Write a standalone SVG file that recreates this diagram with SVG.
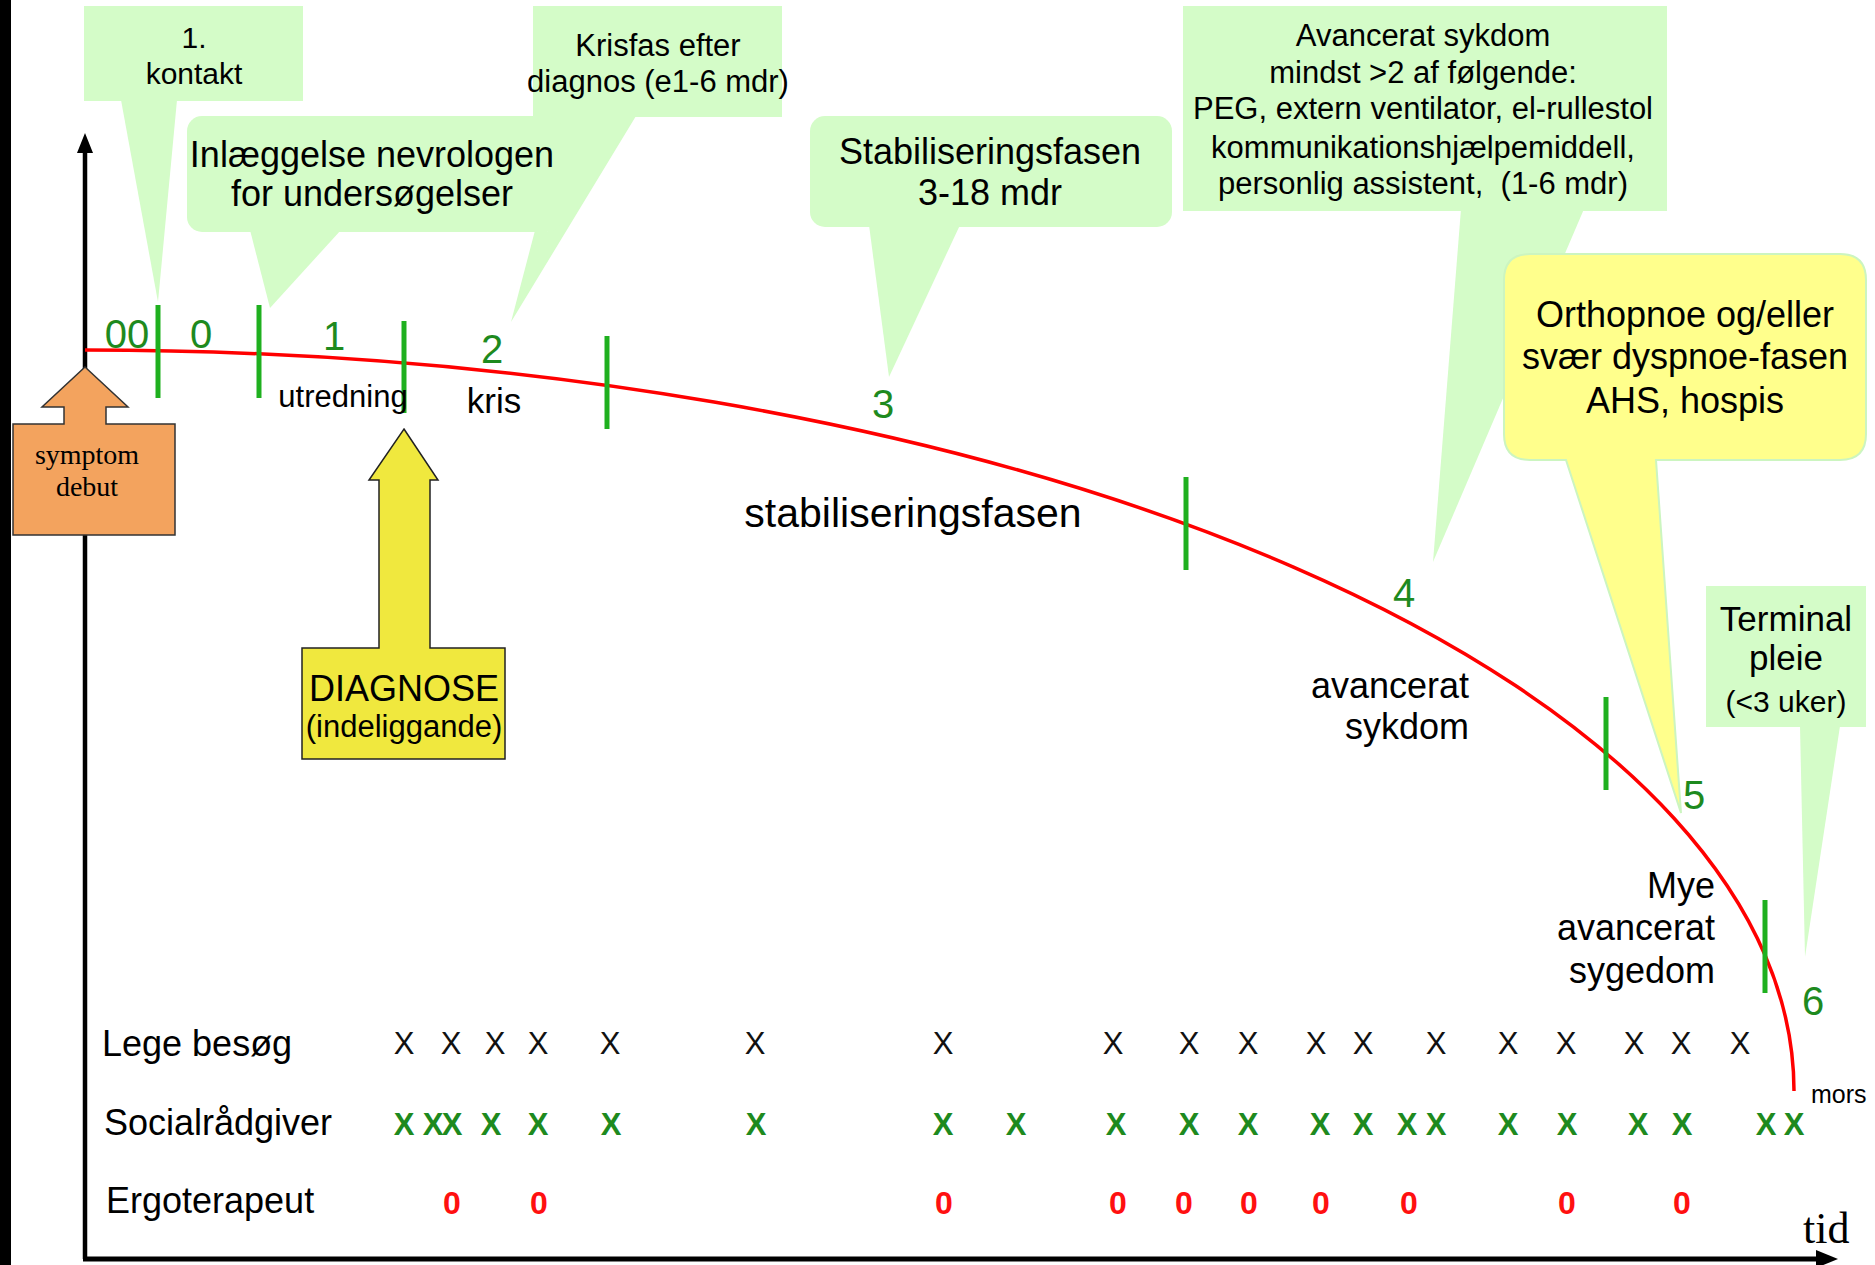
<svg xmlns="http://www.w3.org/2000/svg" width="1875" height="1265" viewBox="0 0 1875 1265">
<style>
text{font-family:"Liberation Sans",Arial,sans-serif;fill:#000}
.c{text-anchor:middle}
.e{text-anchor:end}
.f30{font-size:30px}
.f31{font-size:31px}
.f35{font-size:35px}
.f36{font-size:36px}
.f41{font-size:41px}
.num{font-size:40px;fill:#1e8a1e;text-anchor:middle}
.serif{font-family:"Liberation Serif","Times New Roman",serif}
.bx{font-size:31px;text-anchor:middle;fill:#111}
.gx{font-size:31px;font-weight:bold;text-anchor:middle;fill:#1e8a1e}
.r0{font-size:32px;font-weight:bold;text-anchor:middle;fill:#ff1010}
.call{fill:#d4fcc8}
.yell{fill:#ffff8c;stroke:#ccf5c0;stroke-width:2}
.tick{stroke:#1fb01f;stroke-width:5}
</style>
<rect width="1875" height="1265" fill="#fff"/>
<rect x="0" y="0" width="11" height="1265" fill="#000"/>

<g id="callout-kontakt">
<rect class="call" x="84" y="6" width="219" height="95"/>
<polygon class="call" points="121,100 177,100 158,302"/>
<text class="f30 c" x="194" y="48">1.</text>
<text class="f30 c" x="194" y="84">kontakt</text>
</g>
<g id="callout-krisfas">
<rect class="call" x="533" y="6" width="249" height="111"/>
<polygon class="call" points="548,116 636,116 511,322 534.6,232 548,232"/>
<text class="f31 c" x="658" y="56">Krisfas efter</text>
<text class="f31 c" x="658" y="92">diagnos (e1-6 mdr)</text>
</g>
<g id="callout-inlaeggelse">
<rect class="call" x="187" y="116" width="375" height="116" rx="15"/>
<polygon class="call" points="250,230 341,230 270,308"/>
<text class="f36 c" x="372" y="167">Inlæggelse nevrologen</text>
<text class="f36 c" x="372" y="206">for undersøgelser</text>
</g>
<g id="callout-stabilisering">
<rect class="call" x="810" y="116" width="362" height="111" rx="15"/>
<polygon class="call" points="869,225 960,225 889,377"/>
<text class="f36 c" x="990" y="164">Stabiliseringsfasen</text>
<text class="f36 c" x="990" y="205">3-18 mdr</text>
</g>
<g id="callout-avancerat">
<rect class="call" x="1183" y="6" width="484" height="205"/>
<polygon class="call" points="1461,209 1584,209 1433,562"/>
<text class="f31 c" x="1423" y="46">Avancerat sykdom</text>
<text class="f31 c" x="1423" y="83">mindst &gt;2 af følgende:</text>
<text class="f31 c" x="1423" y="119">PEG, extern ventilator, el-rullestol</text>
<text class="f31 c" x="1423" y="158">kommunikationshjælpemiddell,</text>
<text class="f31 c" x="1423" y="194" xml:space="preserve">personlig assistent,  (1-6 mdr)</text>
</g>
<g id="callout-orthopnoe">
<path class="yell" d="M1530,254 H1840 Q1866,254 1866,280 V434 Q1866,460 1840,460 H1656 L1681,813 L1566,460 H1530 Q1504,460 1504,434 V280 Q1504,254 1530,254 Z"/>
<text class="f36 c" x="1685" y="327">Orthopnoe og/eller</text>
<text class="f36 c" x="1685" y="369">svær dyspnoe-fasen</text>
<text class="f36 c" x="1685" y="413">AHS, hospis</text>
</g>
<g id="callout-terminal">
<rect class="call" x="1706" y="586" width="160" height="141"/>
<polygon class="call" points="1800,726 1840,726 1805,957"/>
<text class="f35 c" x="1786" y="631">Terminal</text>
<text class="f35 c" x="1786" y="670">pleie</text>
<text class="f30 c" x="1786" y="712">(&lt;3 uker)</text>
</g>

<g id="connectors">
<line x1="85" y1="1259" x2="85" y2="150" stroke="#000" stroke-width="4.5"/>
<polygon points="85,133 77,153 93,153" fill="#000"/>
<line x1="83" y1="1259" x2="1820" y2="1259" stroke="#000" stroke-width="5"/>
<polygon points="1838,1259 1816,1250 1816,1268" fill="#000"/>
<path id="curve" d="M85,350 A1709,741 0 0 1 1794,1091" fill="none" stroke="#ff0000" stroke-width="3.5"/>
<g id="ticks">
<line class="tick" x1="158" y1="305" x2="158" y2="398"/>
<line class="tick" x1="259" y1="305" x2="259" y2="398"/>
<line class="tick" x1="404" y1="321" x2="404" y2="413"/>
<line class="tick" x1="607" y1="336" x2="607" y2="429"/>
<line class="tick" x1="1186" y1="477" x2="1186" y2="570"/>
<line class="tick" x1="1606" y1="697" x2="1606" y2="790"/>
<line class="tick" x1="1765" y1="900" x2="1765" y2="993"/>
</g>
</g>

<g id="symptom-debut">
<path d="M85,367 L128,407 L106,407 L106,424 L175,424 L175,535 L13,535 L13,424 L64,424 L64,407 L42,407 Z" fill="#f3a35e" stroke="#333" stroke-width="1.5"/>
<text class="serif c" x="87" y="464" style="font-size:28px">symptom</text>
<text class="serif c" x="87" y="496" style="font-size:28px">debut</text>
</g>
<g id="diagnose">
<path d="M404,429 L438,480 L430,480 L430,648 L505,648 L505,759 L302,759 L302,648 L379,648 L379,480 L369,480 Z" fill="#f0e83e" stroke="#222" stroke-width="1.5"/>
<text class="f36 c" x="404" y="701">DIAGNOSE</text>
<text class="f31 c" x="404" y="737">(indeliggande)</text>
</g>

<g id="phase-numbers">
<text class="num" x="127" y="348">00</text>
<text class="num" x="201" y="348">0</text>
<text class="num" x="334" y="350">1</text>
<text class="num" x="492" y="363">2</text>
<text class="num" x="883" y="418">3</text>
<text class="num" x="1404" y="607">4</text>
<text class="num" x="1694" y="809">5</text>
<text class="num" x="1813" y="1015">6</text>
</g>

<g id="phase-labels">
<text class="f31 c" x="343" y="407">utredning</text>
<text class="f35 c" x="494" y="413">kris</text>
<text class="f41 c" x="913" y="527">stabiliseringsfasen</text>
<text class="f36 e" x="1469" y="698">avancerat</text>
<text class="f36 e" x="1469" y="739">sykdom</text>
<text class="f36 e" x="1715" y="898">Mye</text>
<text class="f36 e" x="1715" y="940">avancerat</text>
<text class="f36 e" x="1715" y="983">sygedom</text>
<text x="1811" y="1103" style="font-size:25px">mors</text>
<text class="serif" x="1803" y="1243" style="font-size:44px">tid</text>
</g>

<g id="row-lege">
<text class="f36" x="102" y="1056">Lege besøg</text>
<text class="bx" x="404" y="1054">X</text>
<text class="bx" x="451" y="1054">X</text>
<text class="bx" x="495" y="1054">X</text>
<text class="bx" x="538" y="1054">X</text>
<text class="bx" x="610" y="1054">X</text>
<text class="bx" x="755" y="1054">X</text>
<text class="bx" x="943" y="1054">X</text>
<text class="bx" x="1113" y="1054">X</text>
<text class="bx" x="1189" y="1054">X</text>
<text class="bx" x="1248" y="1054">X</text>
<text class="bx" x="1316" y="1054">X</text>
<text class="bx" x="1363" y="1054">X</text>
<text class="bx" x="1436" y="1054">X</text>
<text class="bx" x="1508" y="1054">X</text>
<text class="bx" x="1566" y="1054">X</text>
<text class="bx" x="1634" y="1054">X</text>
<text class="bx" x="1681" y="1054">X</text>
<text class="bx" x="1740" y="1054">X</text>
</g>
<g id="row-social">
<text class="f36" x="104" y="1135">Socialrådgiver</text>
<text class="gx" x="404" y="1135">X</text>
<text class="gx" x="433" y="1135">X</text>
<text class="gx" x="452" y="1135">X</text>
<text class="gx" x="491" y="1135">X</text>
<text class="gx" x="538" y="1135">X</text>
<text class="gx" x="611" y="1135">X</text>
<text class="gx" x="756" y="1135">X</text>
<text class="gx" x="943" y="1135">X</text>
<text class="gx" x="1016" y="1135">X</text>
<text class="gx" x="1116" y="1135">X</text>
<text class="gx" x="1189" y="1135">X</text>
<text class="gx" x="1248" y="1135">X</text>
<text class="gx" x="1320" y="1135">X</text>
<text class="gx" x="1363" y="1135">X</text>
<text class="gx" x="1407" y="1135">X</text>
<text class="gx" x="1436" y="1135">X</text>
<text class="gx" x="1508" y="1135">X</text>
<text class="gx" x="1567" y="1135">X</text>
<text class="gx" x="1638" y="1135">X</text>
<text class="gx" x="1682" y="1135">X</text>
<text class="gx" x="1766" y="1135">X</text>
<text class="gx" x="1794" y="1135">X</text>
</g>
<g id="row-ergo">
<text class="f36" x="106" y="1213">Ergoterapeut</text>
<text class="r0" x="452" y="1214">0</text>
<text class="r0" x="539" y="1214">0</text>
<text class="r0" x="944" y="1214">0</text>
<text class="r0" x="1118" y="1214">0</text>
<text class="r0" x="1184" y="1214">0</text>
<text class="r0" x="1249" y="1214">0</text>
<text class="r0" x="1321" y="1214">0</text>
<text class="r0" x="1409" y="1214">0</text>
<text class="r0" x="1567" y="1214">0</text>
<text class="r0" x="1682" y="1214">0</text>
</g>
</svg>
